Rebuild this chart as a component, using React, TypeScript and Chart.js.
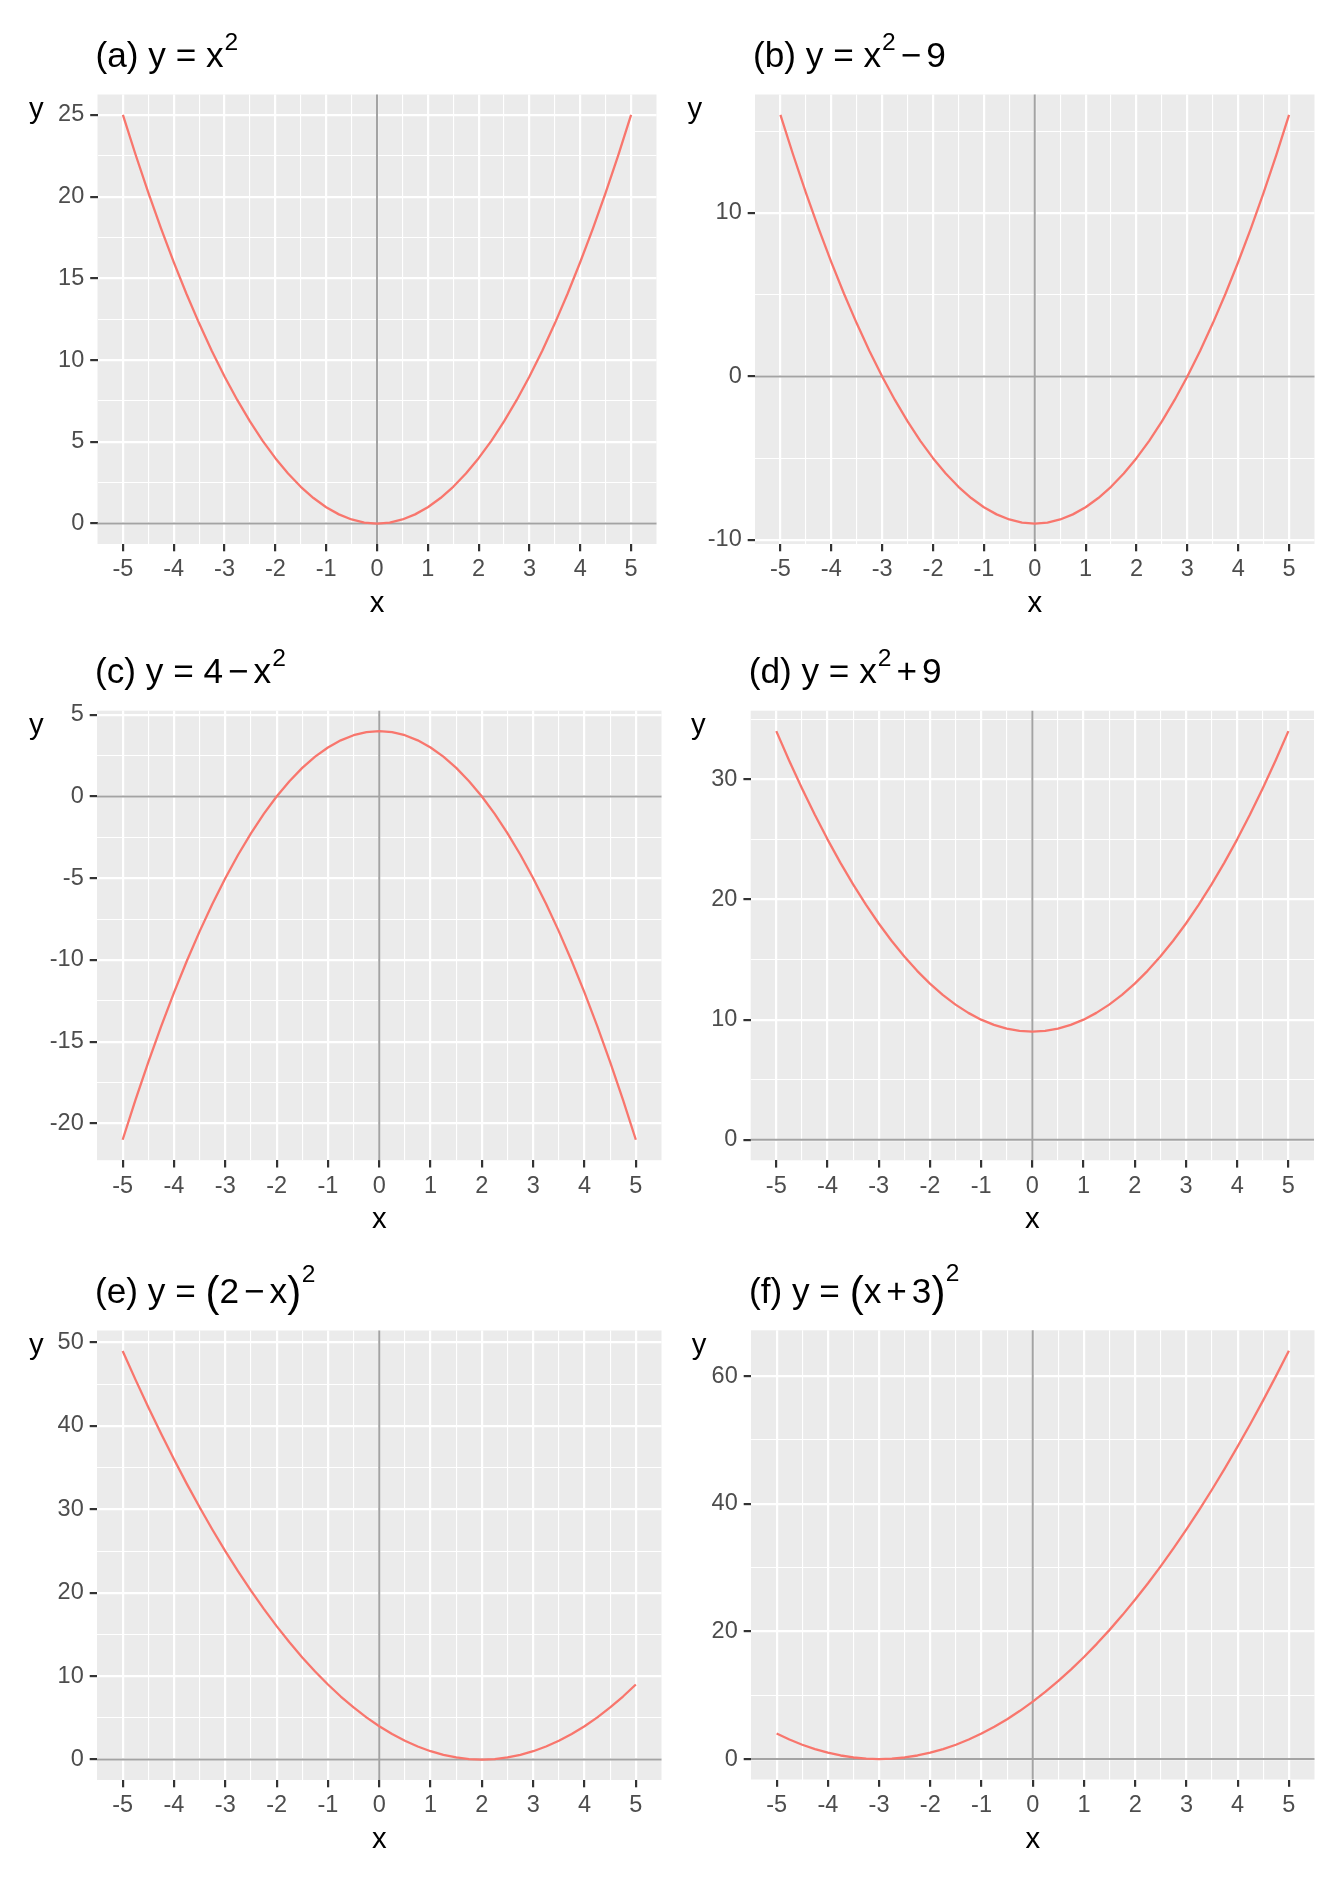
import React, { useEffect, useRef } from "react";
import { Chart, registerables } from "chart.js";

Chart.register(...registerables);

// ---------------- data ----------------
const xValues = [
  -5, -4.75, -4.5, -4.25, -4, -3.75, -3.5, -3.25, -3, -2.75, -2.5, -2.25, -2, -1.75, -1.5, -1.25, -1, -0.75, -0.5, -0.25,
  0, 0.25, 0.5, 0.75, 1, 1.25, 1.5, 1.75, 2, 2.25, 2.5, 2.75, 3, 3.25, 3.5, 3.75, 4, 4.25, 4.5, 4.75, 5,
];

const yA = [
  25, 22.5625, 20.25, 18.0625, 16, 14.0625, 12.25, 10.5625, 9, 7.5625, 6.25, 5.0625, 4, 3.0625, 2.25, 1.5625, 1, 0.5625, 0.25, 0.0625,
  0, 0.0625, 0.25, 0.5625, 1, 1.5625, 2.25, 3.0625, 4, 5.0625, 6.25, 7.5625, 9, 10.5625, 12.25, 14.0625, 16, 18.0625, 20.25, 22.5625, 25,
];
const yB = [
  16, 13.5625, 11.25, 9.0625, 7, 5.0625, 3.25, 1.5625, 0, -1.4375, -2.75, -3.9375, -5, -5.9375, -6.75, -7.4375, -8, -8.4375, -8.75, -8.9375,
  -9, -8.9375, -8.75, -8.4375, -8, -7.4375, -6.75, -5.9375, -5, -3.9375, -2.75, -1.4375, 0, 1.5625, 3.25, 5.0625, 7, 9.0625, 11.25, 13.5625, 16,
];
const yC = [
  -21, -18.5625, -16.25, -14.0625, -12, -10.0625, -8.25, -6.5625, -5, -3.5625, -2.25, -1.0625, 0, 0.9375, 1.75, 2.4375, 3, 3.4375, 3.75, 3.9375,
  4, 3.9375, 3.75, 3.4375, 3, 2.4375, 1.75, 0.9375, 0, -1.0625, -2.25, -3.5625, -5, -6.5625, -8.25, -10.0625, -12, -14.0625, -16.25, -18.5625, -21,
];
const yD = [
  34, 31.5625, 29.25, 27.0625, 25, 23.0625, 21.25, 19.5625, 18, 16.5625, 15.25, 14.0625, 13, 12.0625, 11.25, 10.5625, 10, 9.5625, 9.25, 9.0625,
  9, 9.0625, 9.25, 9.5625, 10, 10.5625, 11.25, 12.0625, 13, 14.0625, 15.25, 16.5625, 18, 19.5625, 21.25, 23.0625, 25, 27.0625, 29.25, 31.5625, 34,
];
const yE = [
  49, 45.5625, 42.25, 39.0625, 36, 33.0625, 30.25, 27.5625, 25, 22.5625, 20.25, 18.0625, 16, 14.0625, 12.25, 10.5625, 9, 7.5625, 6.25, 5.0625,
  4, 3.0625, 2.25, 1.5625, 1, 0.5625, 0.25, 0.0625, 0, 0.0625, 0.25, 0.5625, 1, 1.5625, 2.25, 3.0625, 4, 5.0625, 6.25, 7.5625, 9,
];
const yF = [
  4, 3.0625, 2.25, 1.5625, 1, 0.5625, 0.25, 0.0625, 0, 0.0625, 0.25, 0.5625, 1, 1.5625, 2.25, 3.0625, 4, 5.0625, 6.25, 7.5625,
  9, 10.5625, 12.25, 14.0625, 16, 18.0625, 20.25, 22.5625, 25, 27.5625, 30.25, 33.0625, 36, 39.0625, 42.25, 45.5625, 49, 52.5625, 56.25, 60.0625, 64,
];

// reference lines (geom_hline / geom_vline)
const refX = [0];
const refY = [0];

// tick values
const xMajor = [-5, -4, -3, -2, -1, 0, 1, 2, 3, 4, 5];
const xMinor = [-4.5, -3.5, -2.5, -1.5, -0.5, 0.5, 1.5, 2.5, 3.5, 4.5];

const yMajorA = [0, 5, 10, 15, 20, 25];
const yMinorA = [2.5, 7.5, 12.5, 17.5, 22.5];
const yMajorB = [-10, 0, 10];
const yMinorB = [-5, 5, 15];
const yMajorC = [-20, -15, -10, -5, 0, 5];
const yMinorC = [-17.5, -12.5, -7.5, -2.5, 2.5];
const yMajorD = [0, 10, 20, 30];
const yMinorD = [5, 15, 25, 35];
const yMajorE = [0, 10, 20, 30, 40, 50];
const yMinorE = [5, 15, 25, 35, 45];
const yMajorF = [0, 20, 40, 60];
const yMinorF = [10, 30, 50];

// titles: [text, kind]  n = normal, o = operator, s = superscript, p = big paren, s2 = superscript after big paren
type Seg = [string, string];
const titleA: Seg[] = [["(a) y = x", "n"], ["2", "s"]];
const titleB: Seg[] = [["(b) y = x", "n"], ["2", "s"], ["\u2212", "o"], ["9", "n"]];
const titleC: Seg[] = [["(c) y = 4", "n"], ["\u2212", "o"], ["x", "n"], ["2", "s"]];
const titleD: Seg[] = [["(d) y = x", "n"], ["2", "s"], ["+", "o"], ["9", "n"]];
const titleE: Seg[] = [["(e) y = ", "n"], ["(", "p"], ["2", "n"], ["\u2212", "o"], ["x", "n"], [")", "p"], ["2", "s2"]];
const titleF: Seg[] = [["(f) y = ", "n"], ["(", "p"], ["x", "n"], ["+", "o"], ["3", "n"], [")", "p"], ["2", "s2"]];

const xTitle = "x";
const yTitle = "y";

// ---------------- styling / layout ----------------
const FONT = "'Liberation Sans', Arial, Helvetica, sans-serif";
const LINE_COLOR = "#F8766D";
const PANEL_BG = "#EBEBEB";
const ZERO_COLOR = "#A3A3A3";
const TICK_COLOR = "#333333";
const LABEL_COLOR = "#4D4D4D";
const TITLE_SIZE = 35.2;
const SUP_SIZE = 24.6;
const PAREN_SIZE = 42;
const AXIS_TITLE_SIZE = 29.3;
const TICK_SIZE = 23.5;
const X_AXIS_H = 40;

type PanelDef = {
  ys: number[];
  yMajor: number[];
  yMinor: number[];
  title: Seg[];
  cell: [number, number, number, number]; // x, y, w, h (page coords)
  rect: [number, number, number, number]; // panel L, T, R, B (page coords)
  yTitleX: number; // page coord
};

const PANELS: PanelDef[] = [
  { ys: yA, yMajor: yMajorA, yMinor: yMinorA, title: titleA, cell: [0, 0, 672, 620], rect: [97.5, 94.5, 656.5, 544], yTitleX: 29 },
  { ys: yB, yMajor: yMajorB, yMinor: yMinorB, title: titleB, cell: [672, 0, 672, 620], rect: [755, 94.5, 1314.5, 544], yTitleX: 687.5 },
  { ys: yC, yMajor: yMajorC, yMinor: yMinorC, title: titleC, cell: [0, 620, 672, 620], rect: [97, 710.7, 661.5, 1160.2], yTitleX: 29 },
  { ys: yD, yMajor: yMajorD, yMinor: yMinorD, title: titleD, cell: [672, 620, 672, 620], rect: [750.7, 710.7, 1314, 1160.3], yTitleX: 691 },
  { ys: yE, yMajor: yMajorE, yMinor: yMinorE, title: titleE, cell: [0, 1240, 672, 641], rect: [97, 1330.5, 661.5, 1780], yTitleX: 29 },
  { ys: yF, yMajor: yMajorF, yMinor: yMinorF, title: titleF, cell: [672, 1240, 672, 641], rect: [751, 1330.3, 1314.5, 1779.5], yTitleX: 691.7 },
];

function drawTitle(ctx: CanvasRenderingContext2D, segs: Seg[], x0: number, baseline: number) {
  let cx = x0;
  ctx.fillStyle = "#000000";
  ctx.textAlign = "left";
  ctx.textBaseline = "alphabetic";
  for (const [t, k] of segs) {
    if (k === "n") {
      ctx.font = `${TITLE_SIZE}px ${FONT}`;
      ctx.fillText(t, cx, baseline);
      cx += ctx.measureText(t).width;
    } else if (k === "o") {
      ctx.font = `${TITLE_SIZE}px ${FONT}`;
      cx += 5;
      ctx.fillText(t, cx, baseline);
      cx += ctx.measureText(t).width + 5;
    } else if (k === "s") {
      ctx.font = `${SUP_SIZE}px ${FONT}`;
      cx += 1;
      ctx.fillText(t, cx, baseline - 17.5);
      cx += ctx.measureText(t).width;
    } else if (k === "s2") {
      ctx.font = `${SUP_SIZE}px ${FONT}`;
      cx += 0.5;
      ctx.fillText(t, cx, baseline - 21.5);
      cx += ctx.measureText(t).width;
    } else if (k === "p") {
      ctx.font = `${PAREN_SIZE}px ${FONT}`;
      ctx.fillText(t, cx, baseline + 3);
      cx += ctx.measureText(t).width;
    }
  }
}

const decoPlugin = {
  id: "deco",
  beforeDraw(chart: any) {
    const { ctx, chartArea } = chart;
    ctx.save();
    ctx.fillStyle = PANEL_BG;
    ctx.fillRect(chartArea.left, chartArea.top, chartArea.right - chartArea.left, chartArea.bottom - chartArea.top);
    ctx.restore();
  },
  beforeDatasetsDraw(chart: any) {
    const { ctx, chartArea, scales } = chart;
    ctx.save();
    ctx.strokeStyle = ZERO_COLOR;
    ctx.lineWidth = 2;
    for (const v of refY) {
      const py = scales.y.getPixelForValue(v);
      ctx.beginPath();
      ctx.moveTo(chartArea.left, py);
      ctx.lineTo(chartArea.right, py);
      ctx.stroke();
    }
    for (const v of refX) {
      const px = scales.x.getPixelForValue(v);
      ctx.beginPath();
      ctx.moveTo(px, chartArea.top);
      ctx.lineTo(px, chartArea.bottom);
      ctx.stroke();
    }
    ctx.restore();
  },
  afterDraw(chart: any, _args: any, opts: any) {
    const { ctx, chartArea } = chart;
    ctx.save();
    // plot title
    drawTitle(ctx, opts.segs, chartArea.left - 2, chartArea.top - 27.5);
    // axis titles
    ctx.fillStyle = "#000000";
    ctx.font = `${AXIS_TITLE_SIZE}px ${FONT}`;
    ctx.textBaseline = "alphabetic";
    ctx.textAlign = "left";
    ctx.fillText(yTitle, opts.yTitleX, chartArea.top + 23.5);
    ctx.textAlign = "center";
    ctx.fillText(xTitle, (chartArea.left + chartArea.right) / 2, chartArea.bottom + 68);
    ctx.restore();
  },
};

function buildTicks(major: number[], minor: number[]) {
  return [...major, ...minor].sort((a, b) => a - b).map((value) => ({ value }));
}

function makeConfig(p: PanelDef): any {
  const [cx, cy, cw, ch] = p.cell;
  const L = p.rect[0] - cx;
  const T = p.rect[1] - cy;
  const R = p.rect[2] - cx;
  const B = p.rect[3] - cy;

  const yLo = Math.min(0, ...p.ys);
  const yHi = Math.max(0, ...p.ys);
  const yPad = (yHi - yLo) * 0.05;
  const xLo = Math.min(0, ...xValues);
  const xHi = Math.max(0, ...xValues);
  const xPad = (xHi - xLo) * 0.05;

  const gridFor = (major: number[]) => ({
    display: true,
    drawOnChartArea: true,
    drawTicks: true,
    tickLength: 7.3,
    color: "#FFFFFF",
    lineWidth: (c: any) => (c.tick && major.includes(c.tick.value) ? 2.2 : 1.1),
    tickColor: (c: any) => (c.tick && major.includes(c.tick.value) ? TICK_COLOR : "rgba(0,0,0,0)"),
    tickWidth: 2.2,
  });

  return {
    type: "line",
    data: {
      datasets: [
        {
          data: xValues.map((x, i) => ({ x, y: p.ys[i] })),
          borderColor: LINE_COLOR,
          borderWidth: 2.3,
          pointRadius: 0,
          pointHoverRadius: 0,
          tension: 0,
          fill: false,
          borderJoinStyle: "round",
        },
      ],
    },
    options: {
      animation: false,
      responsive: false,
      devicePixelRatio: 1,
      events: [],
      layout: { padding: { left: 0, top: T, right: cw - R, bottom: ch - B - X_AXIS_H } },
      plugins: {
        legend: { display: false },
        title: { display: false },
        tooltip: { enabled: false },
        deco: { segs: p.title, yTitleX: p.yTitleX - cx },
      },
      scales: {
        x: {
          type: "linear",
          position: "bottom",
          min: xLo - xPad,
          max: xHi + xPad,
          bounds: "data",
          afterBuildTicks: (s: any) => {
            s.ticks = buildTicks(xMajor, xMinor);
          },
          afterFit: (s: any) => {
            s.height = X_AXIS_H;
          },
          grid: gridFor(xMajor),
          border: { display: false },
          ticks: {
            autoSkip: false,
            maxRotation: 0,
            minRotation: 0,
            padding: 4.5,
            color: LABEL_COLOR,
            font: { family: FONT, size: TICK_SIZE },
            callback: (v: number) => (xMajor.includes(v) ? String(v) : ""),
          },
        },
        y: {
          type: "linear",
          position: "left",
          min: yLo - yPad,
          max: yHi + yPad,
          bounds: "data",
          afterBuildTicks: (s: any) => {
            s.ticks = buildTicks(p.yMajor, p.yMinor);
          },
          afterFit: (s: any) => {
            s.width = L;
          },
          grid: gridFor(p.yMajor),
          border: { display: false },
          ticks: {
            autoSkip: false,
            padding: 6,
            color: LABEL_COLOR,
            font: { family: FONT, size: TICK_SIZE },
            callback: (v: number) => (p.yMajor.includes(v) ? String(v) : ""),
          },
        },
      },
    },
    plugins: [decoPlugin],
  };
}

function Panel({ def }: { def: PanelDef }) {
  const ref = useRef<HTMLCanvasElement | null>(null);
  useEffect(() => {
    if (!ref.current) return;
    const chart = new Chart(ref.current, makeConfig(def));
    return () => chart.destroy();
  }, [def]);
  const [x, y, w, h] = def.cell;
  return (
    <canvas
      ref={ref}
      width={w}
      height={h}
      style={{ position: "absolute", left: x, top: y, width: w, height: h }}
    />
  );
}

export default function App() {
  return (
    <div style={{ position: "absolute", left: 0, top: 0, width: 1344, height: 1881, background: "#FFFFFF" }}>
      {PANELS.map((p, i) => (
        <Panel key={i} def={p} />
      ))}
    </div>
  );
}
